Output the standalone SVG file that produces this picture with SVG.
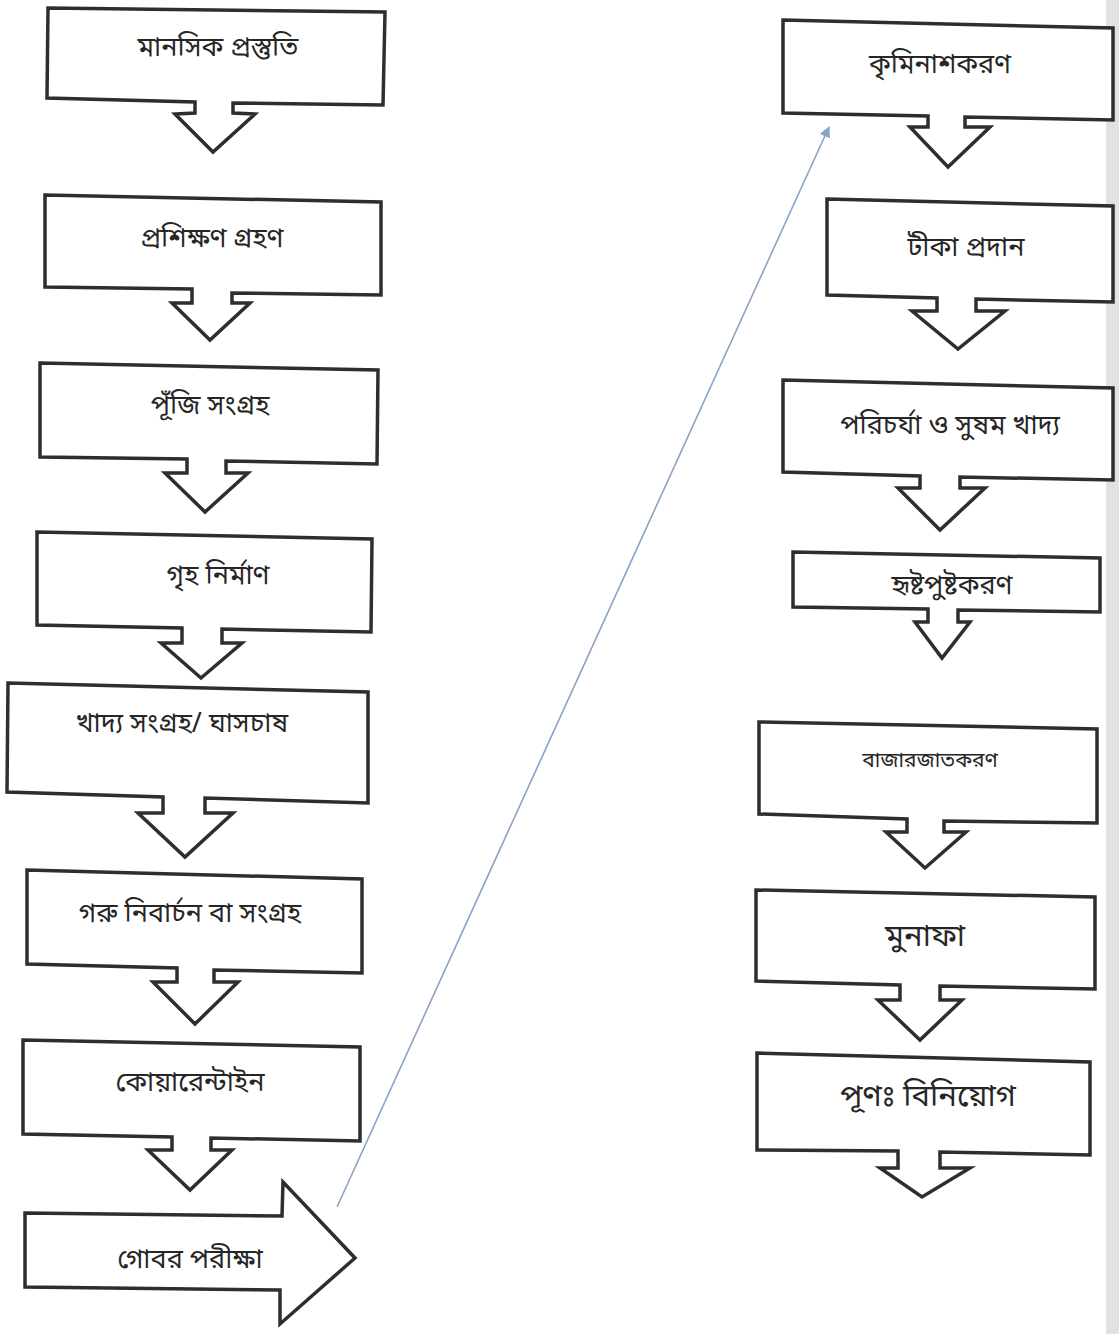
<svg xmlns="http://www.w3.org/2000/svg" width="1119" height="1334" viewBox="0 0 1119 1334">
<style>
.b{fill:#fff;stroke:#2e2e2e;stroke-width:3.5;stroke-linejoin:miter}
.t{font-family:"Noto Sans Bengali","Noto Serif Bengali","Lohit Bengali","Noto Sans",sans-serif;font-size:27px;fill:#262626;text-anchor:middle;dominant-baseline:central}
.c{stroke:#8aa2c6;stroke-width:1.6;fill:none}
</style>
<defs>
<marker id="ah" viewBox="0 0 10 10" refX="9" refY="5" markerWidth="7" markerHeight="7" orient="auto" markerUnits="strokeWidth">
<path d="M0,0 L10,5 L0,10 Z" fill="#8aa2c6"/>
</marker>
</defs>
<rect width="1119" height="1334" fill="#fff"/>
<rect x="1106" y="0" width="13" height="1334" fill="#e2e2e2"/>
<g id="connectors">
<line class="c" x1="337" y1="1207" x2="829" y2="127" marker-end="url(#ah)"/>
</g>
<g id="n1"><path class="b" d="M48,8 L385,12 L383,105 L233,103 L233,113 L255,114 L213,152 L175,114 L195,113 L195,102 L47,98 Z"/><text class="t" x="218" y="49">মানসিক প্রস্তুতি</text></g>
<g id="n2"><path class="b" d="M45,195 L381,202 L381,295 L232,293 L232,303 L250,303 L210,340 L172,303 L192,303 L192,289 L45,287 Z"/><text class="t" x="212" y="240">প্রশিক্ষণ গ্রহণ</text></g>
<g id="n3"><path class="b" d="M40,363 L378,370 L377,464 L226,461 L226,473 L248,473 L205,512 L165,473 L187,473 L187,459 L40,457 Z"/><text class="t" x="210" y="407">পূঁজি সংগ্রহ</text></g>
<g id="n4"><path class="b" d="M37,532 L372,539 L371,632 L222,629 L222,643 L242,643 L201,678 L161,643 L182,643 L182,628 L37,625 Z"/><text class="t" x="218" y="577">গৃহ নির্মাণ</text></g>
<g id="n5"><path class="b" d="M8,683 L368,692 L368,803 L205,798 L205,813 L233,813 L185,857 L138,813 L163,813 L163,797 L7,792 Z"/><text class="t" x="182" y="725">খাদ্য সংগ্রহ/ ঘাসচাষ</text></g>
<g id="n6"><path class="b" d="M27,870 L362,879 L362,973 L214,970 L214,982 L238,982 L195,1024 L153,982 L177,982 L177,968 L27,964 Z"/><text class="t" x="190" y="915">গরু নিবার্চন বা সংগ্রহ</text></g>
<g id="n7"><path class="b" d="M23,1040 L360,1047 L360,1141 L211,1138 L211,1150 L232,1150 L190,1190 L148,1150 L172,1150 L172,1137 L23,1134 Z"/><text class="t" x="190" y="1084">কোয়ারেন্টাইন</text></g>
<g id="n8"><path class="b" d="M25,1213 L282,1216 L283,1182 L355,1258 L280,1324 L280,1290 L25,1287 Z"/><text class="t" x="190" y="1261">গোবর পরীক্ষা</text></g>
<g id="n9"><path class="b" d="M783,20 L1113,28 L1113,120 L965,117 L965,127 L990,127 L948,167 L910,127 L928,127 L928,116 L783,113 Z"/><text class="t" x="940" y="66">কৃমিনাশকরণ</text></g>
<g id="n10"><path class="b" d="M827,199 L1113,206 L1113,302 L976,299 L976,311 L1005,311 L958,349 L912,311 L937,311 L937,298 L827,295 Z"/><text class="t" x="966" y="249">টীকা প্রদান</text></g>
<g id="n11"><path class="b" d="M783,380 L1113,388 L1113,480 L960,477 L960,488 L985,488 L940,530 L898,488 L920,488 L920,476 L783,472 Z"/><text class="t" x="950" y="427">পরিচর্যা ও সুষম খাদ্য</text></g>
<g id="n12"><path class="b" d="M793,552 L1100,558 L1100,612 L958,610 L958,622 L970,622 L942,658 L915,622 L928,622 L928,609 L793,607 Z"/><text class="t" x="952" y="587">হৃষ্টপুষ্টকরণ</text></g>
<g id="n13"><path class="b" d="M759,722 L1097,729 L1097,823 L944,821 L944,832 L966,832 L925,868 L886,832 L907,832 L907,819 L759,814 Z"/><text class="t" x="930" y="762" style="font-size:21px">বাজারজাতকরণ</text></g>
<g id="n14"><path class="b" d="M756,890 L1095,897 L1095,989 L940,986 L940,1000 L962,1000 L920,1040 L878,1000 L900,1000 L900,985 L756,981 Z"/><text class="t" x="925" y="938" style="font-size:31px">মুনাফা</text></g>
<g id="n15"><path class="b" d="M757,1053 L1090,1062 L1090,1155 L940,1152 L940,1168 L970,1168 L922,1197 L880,1168 L898,1168 L898,1151 L757,1150 Z"/><text class="t" x="928" y="1098" style="font-size:31px">পূণঃ বিনিয়োগ</text></g>
</svg>
